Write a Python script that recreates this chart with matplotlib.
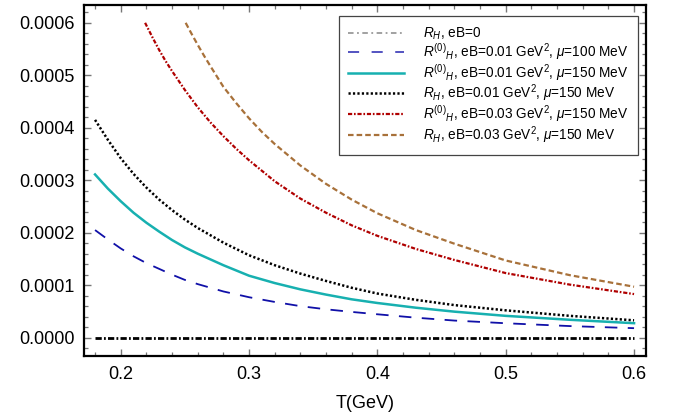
import matplotlib
matplotlib.use("Agg")
import matplotlib.pyplot as plt
from matplotlib.lines import Line2D
from matplotlib.ticker import MultipleLocator, FormatStrFormatter
import numpy as np

plt.rcParams['font.family'] = ['Liberation Sans', 'DejaVu Sans']
plt.rcParams['mathtext.fontset'] = 'custom'
plt.rcParams['mathtext.rm'] = 'Liberation Sans'
plt.rcParams['mathtext.it'] = 'Liberation Sans:italic'
plt.rcParams['lines.scale_dashes'] = False

# Hall coefficient curves vs temperature (values in units of 1e-6)
T_low = [0.18, 0.19, 0.20, 0.21, 0.22, 0.23, 0.24, 0.25, 0.26, 0.28, 0.30,
         0.32, 0.34, 0.36, 0.38, 0.40, 0.43, 0.46, 0.50, 0.55, 0.60]
RH_eb0 = [0.0] * len(T_low)
R0_eb001_mu100 = [205, 187, 170, 155, 142, 131, 120, 110, 102, 88, 77,
                  68, 60, 54, 49, 44.5, 38, 32.5, 27.4, 22, 18]
R0_eb001_mu150 = [311, 284, 260, 238, 219, 202, 186, 172, 160, 138, 118,
                  104, 92, 82, 73, 66, 57, 49.5, 41.5, 34, 27.5]
RH_eb001_mu150 = [415, 377, 342, 312, 286, 263, 243, 225, 209, 181, 157,
                  138, 122, 108, 95, 84, 72, 62, 52, 41.5, 33]

T_red = [0.219, 0.225, 0.23, 0.235, 0.24, 0.25, 0.26, 0.27, 0.28, 0.29, 0.30,
         0.32, 0.34, 0.36, 0.38, 0.40, 0.43, 0.46, 0.50, 0.55, 0.60]
R0_eb003_mu150 = [600, 571, 548, 527, 508, 472, 439, 410, 384, 360, 338,
                  298, 265, 238, 214, 194, 169, 148, 123, 101, 83]

T_brown = [0.2506, 0.255, 0.26, 0.265, 0.27, 0.28, 0.29, 0.30, 0.31, 0.32,
           0.34, 0.36, 0.38, 0.40, 0.43, 0.46, 0.50, 0.55, 0.60]
RH_eb003_mu150 = [600, 580, 558, 537, 517, 478, 447, 418, 392, 369,
                  328, 293, 263, 237, 205, 179, 147, 119, 97]

labels = [r'$R_H$, eB=0',
          r'$R^{(0)}{}_H$, eB=0.01 GeV$^2$, $\mu$=100 MeV',
          r'$R^{(0)}{}_H$, eB=0.01 GeV$^2$, $\mu$=150 MeV',
          r'$R_H$, eB=0.01 GeV$^2$, $\mu$=150 MeV',
          r'$R^{(0)}{}_H$, eB=0.03 GeV$^2$, $\mu$=150 MeV',
          r'$R_H$, eB=0.03 GeV$^2$, $\mu$=150 MeV']

scale = 1e-6

fig = plt.figure(figsize=(6.77, 4.15), dpi=100)
ax = fig.add_axes([0.1241, 0.1422, 0.8301, 0.8458])

ax.plot(T_low, RH_eb0, color='black', lw=2.0, dashes=(4.5, 1.6, 1.3, 1.6))
ax.plot(T_low, np.array(R0_eb001_mu100) * scale, color='#1010a8', lw=1.3, dashes=(9, 7.5))
ax.plot(T_low, np.array(R0_eb001_mu150) * scale, color='#17b0b0', lw=1.8)
ax.plot(T_low, np.array(RH_eb001_mu150) * scale, color='black', lw=1.8, dashes=(1.6, 1.6))
ax.plot(T_red, np.array(R0_eb003_mu150) * scale, color='#b00000', lw=1.6,
        dashes=(3, 1.3, 1.2, 1.3))
ax.plot(T_brown, np.array(RH_eb003_mu150) * scale, color='#a8713a', lw=1.6, dashes=(4, 2.2))

# legend keys (the eB=0 key is a thin grey dash-dot)
handles = [
    Line2D([], [], color='#888888', lw=1.1, dashes=(4, 2.5, 1.3, 2.5)),
    Line2D([], [], color='#2525b0', lw=1.1, dashes=(8, 9)),
    Line2D([], [], color='#17b0b0', lw=1.8),
    Line2D([], [], color='black', lw=1.8, dashes=(1.6, 1.6)),
    Line2D([], [], color='#b00000', lw=1.6, dashes=(3, 1.3, 1.2, 1.3)),
    Line2D([], [], color='#a8713a', lw=1.6, dashes=(4, 2.2)),
]

ax.set_xlim(0.1714, 0.6093)
ax.set_ylim(-0.000035, 0.000634)

ax.xaxis.set_major_locator(MultipleLocator(0.1))
ax.xaxis.set_minor_locator(MultipleLocator(0.02))
ax.yaxis.set_major_locator(MultipleLocator(0.0001))
ax.yaxis.set_minor_locator(MultipleLocator(0.00002))
ax.xaxis.set_major_formatter(FormatStrFormatter('%.1f'))
ax.yaxis.set_major_formatter(FormatStrFormatter('%.4f'))

ax.tick_params(which='both', direction='in', top=True, right=True, color='#777777')
ax.tick_params(which='major', length=5, width=1.0, labelsize=13, pad=7)
ax.tick_params(which='minor', length=2.8, width=0.9)
for s in ax.spines.values():
    s.set_linewidth(1.6)

ax.set_xlabel('T(GeV)', fontsize=13, labelpad=9)

leg = ax.legend(handles, labels, loc='upper right', bbox_to_anchor=(0.986, 0.969),
                borderaxespad=0, fontsize=9.8, handlelength=4.1, handletextpad=1.4,
                labelspacing=-0.03, borderpad=0.7, fancybox=False, framealpha=1,
                edgecolor='#444444')
leg.get_frame().set_linewidth(0.9)

fig.savefig('out.png', dpi=100)
